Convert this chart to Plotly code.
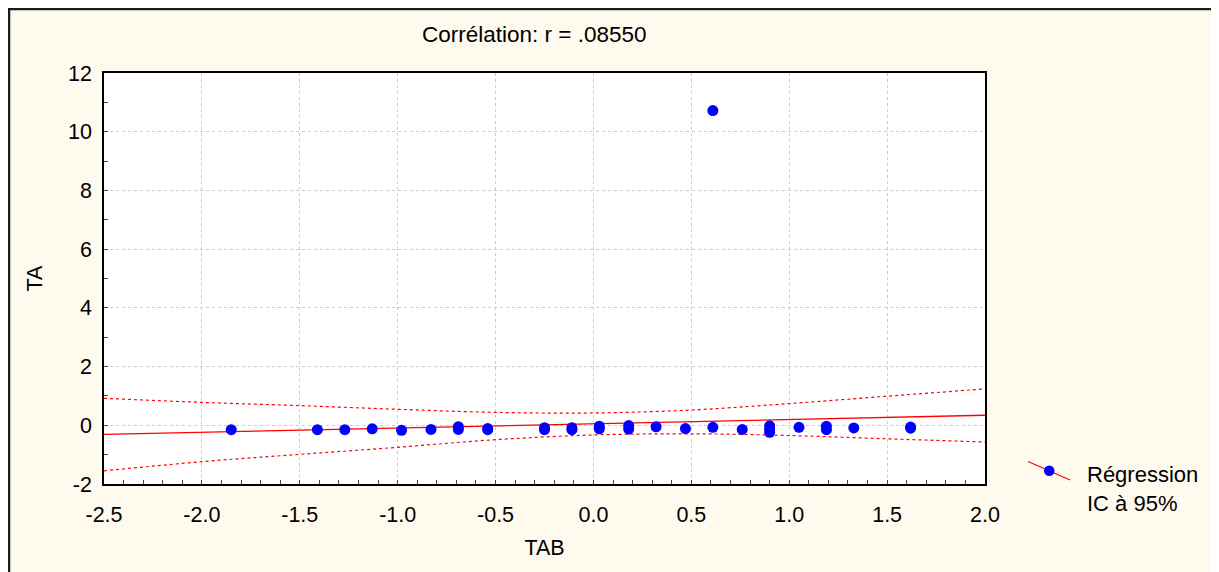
import plotly.graph_objects as go

# ---- data ----
tab = [-1.85, -1.41, -1.27, -1.13, -0.98, -0.83, -0.69, -0.69, -0.54, -0.54,
       -0.25, -0.25, -0.11, -0.11, 0.03, 0.03, 0.18, 0.18, 0.32, 0.47,
       0.61, 0.61, 0.76, 0.90, 0.90, 0.90, 1.05, 1.19, 1.19, 1.33,
       1.62, 1.62]
ta = [-0.15, -0.15, -0.15, -0.12, -0.17, -0.14, -0.05, -0.14, -0.11, -0.15,
      -0.08, -0.15, -0.08, -0.15, -0.03, -0.12, -0.01, -0.13, -0.05, -0.11,
      -0.07, 10.72, -0.14, -0.02, -0.13, -0.24, -0.07, -0.03, -0.15, -0.09,
      -0.06, -0.10]

fit_x = [-2.5, 2.0]
fit_y = [-0.31, 0.34]

ci_x = [-2.5, -2.0, -1.5, -1.0, -0.5, 0.0, 0.5, 1.0, 1.5, 2.0]
ci_upper = [0.92, 0.78, 0.67, 0.545, 0.44, 0.42, 0.52, 0.74, 0.99, 1.24]
ci_lower = [-1.55, -1.24, -0.99, -0.75, -0.49, -0.33, -0.29, -0.35, -0.46, -0.57]

x_tickvals = [-2.5, -2.0, -1.5, -1.0, -0.5, 0.0, 0.5, 1.0, 1.5, 2.0]
x_ticktext = ["-2.5", "-2.0", "-1.5", "-1.0", "-0.5", "0.0", "0.5", "1.0", "1.5", "2.0"]
y_tickvals = [-2, 0, 2, 4, 6, 8, 10, 12]
y_ticktext = ["-2", "0", "2", "4", "6", "8", "10", "12"]

title_text = "Corrélation: r = .08550"
x_title = "TAB"
y_title = "TA"
legend_lines = ["Régression", "IC à 95%"]

# ---- figure ----
O = 8  # page body margin offset
W, H = 1219 - O, 572 - O
L, R, T, B = 104, 985, 73, 484   # plot area in screen pixels
pw, ph = R - L, B - T

def px(x):
    return (x - L) / pw

def py(y):
    return (B - y) / ph

FONT = "Liberation Sans, Arial, sans-serif"
red = "#ff0000"

fig = go.Figure()
for yy in (ci_upper, ci_lower):
    fig.add_trace(go.Scatter(x=ci_x, y=yy, mode="lines", line=dict(color=red, width=1.2, dash="dot", shape="spline"),
                             hoverinfo="skip", showlegend=False))
fig.add_trace(go.Scatter(x=fit_x, y=fit_y, mode="lines", line=dict(color=red, width=1.4), showlegend=False))
fig.add_trace(go.Scatter(x=tab, y=ta, mode="markers", marker=dict(color="#0000ff", size=11, line=dict(width=0)),
                         showlegend=False))

axis_common = dict(showline=True, linecolor="black", linewidth=1.5, mirror=True, ticks="inside", ticklen=4,
                   tickcolor="#444", gridcolor="#cccccc", griddash="dot", gridwidth=1, zeroline=False,
                   tickfont=dict(family=FONT, size=21.5, color="black"))

fig.update_xaxes(range=[-2.5, 2.0], tickmode="array", tickvals=x_tickvals, ticktext=x_ticktext,
                 minor=dict(dtick=0.1, tick0=-2.5, ticks="inside", ticklen=4, tickcolor="#444", showgrid=False),
                 title=dict(text=x_title, font=dict(family=FONT, size=21.5, color="black"), standoff=14),
                 ticklabelstandoff=10, **axis_common)
fig.update_yaxes(range=[-2, 12], tickmode="array", tickvals=y_tickvals, ticktext=y_ticktext,
                 minor=dict(dtick=1, tick0=0, ticks="inside", ticklen=4, tickcolor="#444", showgrid=False),
                 title=dict(text=y_title, font=dict(family=FONT, size=21.5, color="black"), standoff=20),
                 ticklabelstandoff=6, **axis_common)

shapes = [
    # outer frame: top and left edges of the figure
    dict(type="line", xref="paper", yref="paper", x0=px(O), x1=px(1260), y0=py(O + 1), y1=py(O + 1),
         line=dict(color="#1a1a1a", width=2.5), layer="above"),
    dict(type="line", xref="paper", yref="paper", x0=px(O + 1), x1=px(O + 1), y0=py(O), y1=py(620),
         line=dict(color="#1a1a1a", width=2.5), layer="above"),
    # legend symbol
    dict(type="line", xref="paper", yref="paper", x0=px(1028), y0=py(461.5), x1=px(1070), y1=py(480),
         line=dict(color=red, width=1.2)),
    dict(type="circle", xref="paper", yref="paper", x0=px(1044), x1=px(1054.5), y0=py(465.5), y1=py(476),
         fillcolor="#0000ff", line=dict(width=0)),
]

annotations = [
    dict(text=title_text, xref="paper", yref="paper", x=px(534), y=py(35), showarrow=False,
         xanchor="center", yanchor="middle", font=dict(family=FONT, size=22.5, color="black")),
    dict(text="<br>".join(legend_lines), xref="paper", yref="paper", x=px(1085), y=py(460),
         showarrow=False, xanchor="left", yanchor="top", align="left",
         font=dict(family=FONT, size=22, color="black")),
]

fig.update_layout(width=W, height=H, margin=dict(l=L - O, r=W + O - R, t=T - O, b=H + O - B),
                  paper_bgcolor="#fffaee", plot_bgcolor="white", showlegend=False,
                  shapes=shapes, annotations=annotations)

fig.write_html("out.html")
